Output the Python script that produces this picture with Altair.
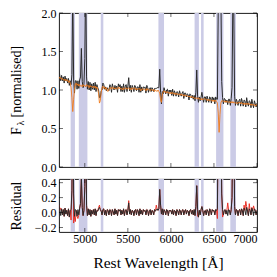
import altair as alt
import pandas as pd

WAVE_START = 4700
WAVE_STEP = 10

# best-fit model spectrum (orange), one value per 10 A from 4700 to 7000 A
model = [
    1.17, 1.15, 1.16, 1.14, 1.15, 1.13, 1.14, 1.12, 1.14, 1.12,
    1.13, 1.10, 1.12, 1.09, 1.03, 0.90, 0.72, 0.88, 1.01, 1.08,
    1.09, 1.06, 1.08, 1.05, 1.07, 1.05, 1.06, 1.04, 1.07, 1.05,
    1.06, 1.04, 1.07, 1.05, 1.06, 1.03, 1.06, 1.04, 1.05, 1.03,
    1.05, 1.03, 1.05, 1.02, 1.04, 1.01, 0.95, 0.83, 0.86, 0.97,
    1.03, 1.05, 1.02, 1.04, 1.01, 1.03, 0.99, 0.98, 1.02, 1.03,
    1.03, 1.01, 1.04, 1.02, 1.03, 1.01, 1.03, 1.02, 1.01, 1.04,
    1.02, 1.03, 1.01, 1.02, 1.00, 1.03, 1.01, 1.02, 1.03, 1.01,
    1.02, 1.03, 1.01, 1.02, 1.00, 1.03, 1.01, 1.02, 1.03, 1.00,
    1.02, 1.00, 1.02, 1.01, 1.02, 0.99, 1.01, 1.02, 1.00, 1.01,
    1.01, 0.99, 1.02, 1.00, 1.01, 1.00, 0.99, 1.01, 1.00, 0.99,
    1.01, 0.98, 1.00, 0.99, 0.98, 1.00, 0.98, 0.96, 0.87, 0.84,
    0.93, 0.98, 0.99, 0.97, 0.98, 0.96, 0.98, 0.96, 0.97, 0.95,
    0.97, 0.95, 0.97, 0.95, 0.96, 0.94, 0.96, 0.94, 0.95, 0.94,
    0.95, 0.93, 0.95, 0.93, 0.94, 0.92, 0.94, 0.92, 0.93, 0.92,
    0.92, 0.91, 0.92, 0.90, 0.92, 0.90, 0.91, 0.89, 0.90, 0.89,
    0.90, 0.88, 0.90, 0.88, 0.89, 0.87, 0.89, 0.87, 0.88, 0.89,
    0.88, 0.87, 0.88, 0.86, 0.88, 0.86, 0.87, 0.86, 0.87, 0.85,
    0.87, 0.85, 0.87, 0.85, 0.83, 0.70, 0.45, 0.68, 0.83, 0.86,
    0.86, 0.85, 0.86, 0.84, 0.86, 0.84, 0.85, 0.84, 0.85, 0.83,
    0.85, 0.83, 0.85, 0.83, 0.84, 0.83, 0.84, 0.82, 0.84, 0.83,
    0.84, 0.82, 0.84, 0.82, 0.83, 0.81, 0.83, 0.81, 0.83, 0.81,
    0.83, 0.81, 0.82, 0.80, 0.82, 0.80, 0.81, 0.81, 0.79, 0.81,
    0.80,
]

# residual (data - model), black
resid = [
    0.10, 0.03, -0.04, 0.05, -0.03, 0.04, -0.05, 0.06, -0.02, 0.03,
    -0.04, 0.05, -0.06, 0.03, 0.04, 0.30, 1.60, 0.25, -0.05, 0.04,
    0.03, -0.05, 0.04, -0.03, 0.06, 0.12, 0.48, 0.07, -0.04, 0.03,
    0.35, 1.55, 0.10, -0.04, 0.05, -0.03, 0.04, -0.05, 0.03, -0.02,
    0.04, -0.03, 0.05, -0.04, 0.03, 0.02, 0.05, 0.07, 0.04, 0.02,
    -0.03, 0.04, 0.05, -0.03, 0.03, -0.04, 0.04, 0.03, -0.03, 0.04,
    0.03, -0.04, 0.04, 0.01, -0.03, 0.05, -0.02, 0.03, -0.04, 0.04,
    0.02, 0.04, -0.03, 0.03, -0.02, 0.05, -0.04, 0.03, 0.04, -0.03,
    0.03, 0.13, -0.02, 0.04, -0.03, 0.03, 0.02, -0.04, 0.03, 0.04,
    -0.03, 0.04, 0.02, -0.04, 0.05, -0.02, 0.03, -0.03, 0.04, 0.02,
    0.03, -0.03, 0.04, 0.03, -0.04, 0.02, 0.04, -0.03, 0.03, 0.02,
    -0.03, 0.04, 0.02, 0.03, 0.05, 0.03, 0.05, 0.31, 0.10, -0.02,
    0.05, -0.03, 0.04, 0.02, -0.03, 0.04, 0.03, -0.04, 0.03, 0.02,
    0.03, -0.02, 0.04, -0.03, 0.03, 0.02, -0.04, 0.04, 0.02, -0.03,
    0.04, 0.02, -0.03, 0.03, 0.04, -0.03, 0.02, 0.04, -0.02, 0.03,
    0.02, -0.04, 0.03, 0.04, -0.02, 0.03, -0.03, 0.04, -0.04, 0.08,
    0.36, 0.04, -0.06, 0.03, -0.03, 0.04, 0.08, 0.03, -0.04, 0.02,
    0.03, -0.03, 0.04, 0.02, -0.04, 0.05, 0.03, -0.03, 0.04, 0.02,
    0.03, -0.03, 0.04, 0.03, 0.05, 1.40, 1.90, 1.60, 1.50, 0.25,
    0.04, -0.03, 0.03, 0.04, -0.02, 0.03, -0.04, 0.04, 0.03, -0.03,
    0.04, 0.20, 1.40, 1.25, 0.08, -0.03, 0.04, 0.03, -0.04, 0.03,
    0.04, -0.03, 0.05, 0.03, -0.04, 0.06, 0.03, -0.03, 0.07, 0.02,
    -0.04, 0.05, 0.03, -0.03, 0.06, 0.02, -0.04, 0.05, 0.03, -0.03,
    0.03,
]

# points where the red residual differs from the black one
red_wave = [4720, 4840, 4870, 4890, 4920, 5160, 5170, 5510, 5830, 6310,
            6540, 6600, 6660, 6850, 6870, 6880, 6910, 6940, 6960]
red_value = [0.06, -0.10, -0.14, -0.12, -0.08, 0.07, 0.10, 0.16, 0.10, -0.05,
             -0.08, -0.06, 0.13, 0.10, 0.15, 0.08, 0.12, 0.07, 0.09]

# masked wavelength windows (lavender)
band_lo = [4835, 4930, 5185, 5855, 6275, 6350, 6525, 6690]
band_hi = [4885, 5030, 5215, 5920, 6325, 6380, 6610, 6755]

x_ticks = [5000, 5500, 6000, 6500, 7000]
y_ticks_top = [0.0, 0.5, 1.0, 1.5, 2.0]
y_ticks_bot = [-0.2, 0.0, 0.2, 0.4]

wave = [WAVE_START + WAVE_STEP * i for i in range(len(model))]
flux = [round(m + r, 3) for m, r in zip(model, resid)]
red_map = dict(zip(red_wave, red_value))
resid_red = [red_map.get(w, r) for w, r in zip(wave, resid)]

df = pd.DataFrame({"wave": wave, "flux": flux, "model": model,
                   "resid": resid, "resid_red": resid_red})
bands = pd.DataFrame({"lo": band_lo, "hi": band_hi})
xt = pd.DataFrame({"v": x_ticks})
ytt = pd.DataFrame({"v": y_ticks_top})
ytb = pd.DataFrame({"v": y_ticks_bot})

W, HT, HB = 198, 154, 53
FONT = "Liberation Serif"
BAND = "#cbcbe6"
BLACK = "#2a2a2a"
ORANGE = "#ef7b1c"
RED = "#e8261c"
TITLE_X = -36

xsc = alt.Scale(domain=[4700, 7000], nice=False, zero=False)
ysc_top = alt.Scale(domain=[0, 2], nice=False, zero=False)
ysc_bot = alt.Scale(domain=[-0.26, 0.45], nice=False, zero=False)

y_axis_top = alt.Axis(values=y_ticks_top, format=".1f", ticks=False, domain=False,
                      grid=False, title="F\u2002\u2009[normalised]", titleX=TITLE_X,
                      titleY=HT / 2, labelPadding=3)
y_axis_bot = alt.Axis(values=y_ticks_bot, format=".1f", ticks=False, domain=False,
                      grid=False, title="Residual", titleX=TITLE_X, titleY=HB / 2,
                      labelPadding=3)
x_axis_bot = alt.Axis(values=x_ticks, format="d", ticks=False, domain=False,
                      grid=False, title="Rest Wavelength [Å]", labelPadding=1,
                      titlePadding=11, titleFontSize=15.5)


def tick_layers(yt, ysc, yaxis, xaxis, h):
    tb = alt.Chart(xt).mark_tick(orient="vertical", size=4, thickness=0.8, color="black").encode(
        x=alt.X("v:Q", scale=xsc, axis=xaxis), y=alt.value(h - 2))
    tt = alt.Chart(xt).mark_tick(orient="vertical", size=4, thickness=0.8, color="black").encode(
        x=alt.X("v:Q", scale=xsc, axis=xaxis), y=alt.value(2))
    tl = alt.Chart(yt).mark_tick(orient="horizontal", size=4, thickness=0.8, color="black").encode(
        y=alt.Y("v:Q", scale=ysc, axis=yaxis), x=alt.value(2))
    tr = alt.Chart(yt).mark_tick(orient="horizontal", size=4, thickness=0.8, color="black").encode(
        y=alt.Y("v:Q", scale=ysc, axis=yaxis), x=alt.value(W - 2))
    return [tb, tt, tl, tr]


top_bands = alt.Chart(bands).mark_rect(color=BAND).encode(
    x=alt.X("lo:Q", scale=xsc, axis=None), x2="hi:Q",
    y=alt.value(0), y2=alt.value(HT))
top_flux = alt.Chart(df).mark_line(color=BLACK, strokeWidth=1.0, clip=True).encode(
    x=alt.X("wave:Q", scale=xsc, axis=None),
    y=alt.Y("flux:Q", scale=ysc_top, axis=y_axis_top))
top_model = alt.Chart(df).mark_line(color=ORANGE, strokeWidth=0.9, clip=True).encode(
    x=alt.X("wave:Q", scale=xsc, axis=None),
    y=alt.Y("model:Q", scale=ysc_top, axis=y_axis_top))
# subscript lambda of the y-axis title F_lambda
lam = alt.Chart(pd.DataFrame({"t": ["λ"]})).mark_text(
    font=FONT, fontSize=10, angle=270, align="center", baseline="alphabetic", color="black"
).encode(text="t:N", x=alt.value(TITLE_X + 0.5), y=alt.value(HT / 2 + 33))

top = alt.layer(top_bands, top_flux, top_model, lam,
                *tick_layers(ytt, ysc_top, y_axis_top, None, HT)).properties(width=W, height=HT)

bot_bands = alt.Chart(bands).mark_rect(color=BAND).encode(
    x=alt.X("lo:Q", scale=xsc, axis=x_axis_bot), x2="hi:Q",
    y=alt.value(0), y2=alt.value(HB))
bot_red = alt.Chart(df).mark_line(color=RED, strokeWidth=0.9, clip=True).encode(
    x=alt.X("wave:Q", scale=xsc, axis=x_axis_bot),
    y=alt.Y("resid_red:Q", scale=ysc_bot, axis=y_axis_bot))
bot_black = alt.Chart(df).mark_line(color=BLACK, strokeWidth=1.0, clip=True).encode(
    x=alt.X("wave:Q", scale=xsc, axis=x_axis_bot),
    y=alt.Y("resid:Q", scale=ysc_bot, axis=y_axis_bot))

bot = alt.layer(bot_bands, bot_red, bot_black,
                *tick_layers(ytb, ysc_bot, y_axis_bot, x_axis_bot, HB)).properties(width=W, height=HB)

chart = alt.vconcat(top, bot, spacing=12, bounds="flush").configure_view(
    stroke="black", strokeWidth=0.9
).configure_axis(
    labelFont=FONT, titleFont=FONT, labelFontSize=12, titleFontSize=14,
    labelColor="black", titleColor="black", titleFontWeight="normal"
).properties(background="white",
             padding={"left": 0, "top": -2, "right": 2, "bottom": 0})

chart.save("out.html", embed_options={"renderer": "svg", "actions": False})
